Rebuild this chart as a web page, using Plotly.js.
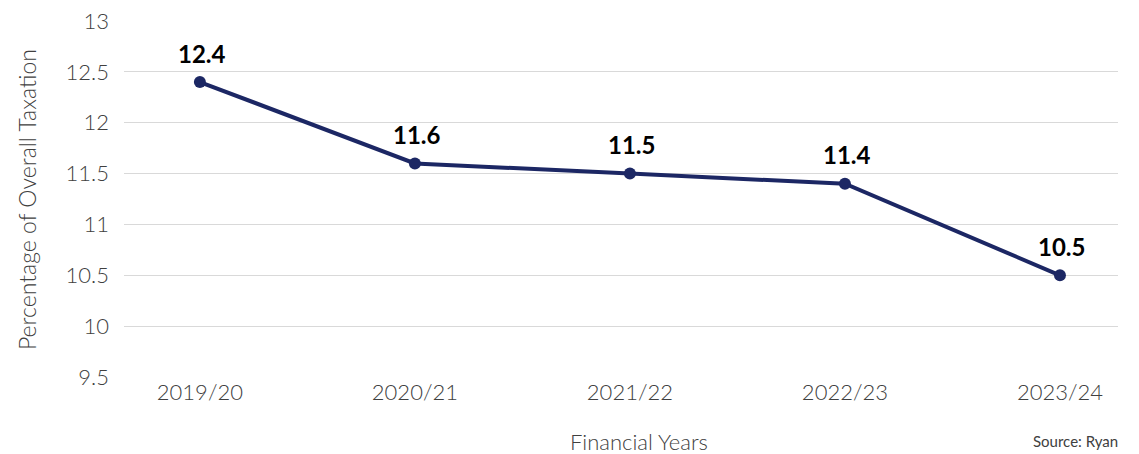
<!DOCTYPE html>
<html><head><meta charset="utf-8">
<script src="https://cdn.plot.ly/plotly-3.0.1.min.js"></script>
<style>html,body{margin:0;padding:0;background:#fff;}</style>
</head><body>
<div id="chart" style="width:1139px;height:454px;"></div>
<script>
const years = ["2019/20", "2020/21", "2021/22", "2022/23", "2023/24"];
const values = [12.4, 11.6, 11.5, 11.4, 10.5];
const yTicks = [9.5, 10, 10.5, 11, 11.5, 12, 12.5, 13];

const lightFont = {family: "Lato", size: 22, weight: 300, color: "#404040"};

const trace = {
  x: years, y: values, type: "scatter", mode: "lines+markers",
  line: {color: "#1c2764", width: 4},
  marker: {color: "#1c2764", size: 12},
  cliponaxis: false, hoverinfo: "skip"
};
const labelAnns = years.map((yr, i) => ({
  x: yr, y: values[i], xref: "x", yref: "y", text: values[i].toFixed(1),
  showarrow: false, yshift: 29, xshift: 2, xanchor: "center", yanchor: "middle",
  font: {family: "Lato", size: 24, weight: 700, color: "#000"}
}));
const layout = {
  width: 1139, height: 454,
  margin: {l: 124, r: 21, t: 21, b: 77},
  paper_bgcolor: "#fff", plot_bgcolor: "#fff",
  showlegend: false,
  font: {family: "Lato", color: "#404040"},
  xaxis: {type: "category", range: [-0.353, 4.27], showgrid: false, zeroline: false,
    showline: false, ticks: "", tickfont: lightFont},
  yaxis: {range: [9.5, 13], tickvals: yTicks, ticktext: yTicks.map(String),
    showgrid: true, gridcolor: "#d9d9d9", gridwidth: 1, zeroline: false, showline: false,
    ticks: "", ticklabelstandoff: 14, tickfont: lightFont},
  annotations: labelAnns.concat([
    {text: "Financial Years", xref: "paper", yref: "paper", x: 0.518, y: 0, yshift: -64, xanchor: "center", yanchor: "middle",
     showarrow: false, font: lightFont},
    {text: "Percentage of Overall Taxation", xref: "paper", yref: "paper", x: -0.0976, y: 0.5, xanchor: "center", yanchor: "middle",
     textangle: -90, showarrow: false, font: {family: "Lato", size: 23, weight: 300, color: "#404040"}},
    {text: "Source: Ryan", xref: "paper", yref: "paper", x: 1, xshift: 2, y: 0, yshift: -75, xanchor: "right", yanchor: "bottom",
     showarrow: false, font: {family: "Lato", size: 15, color: "#404040"}}
  ])
};
Plotly.newPlot("chart", [trace], layout, {displayModeBar: false, staticPlot: true});
</script>
</body></html>
